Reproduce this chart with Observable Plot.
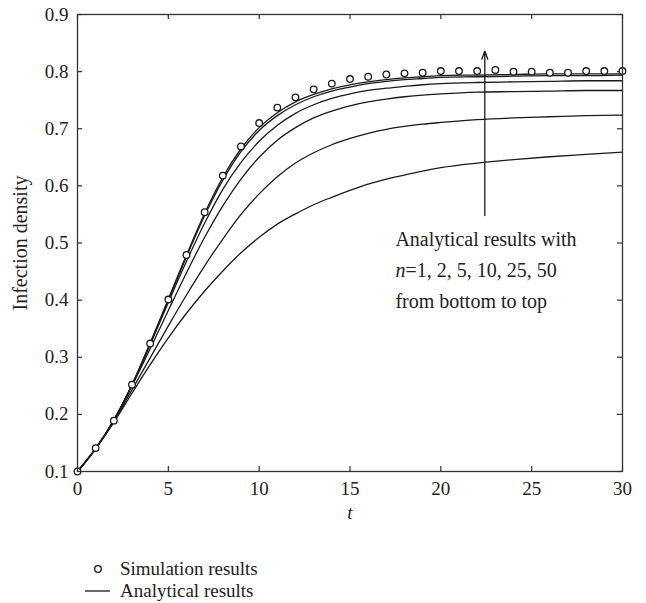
<!DOCTYPE html>
<html><head><meta charset="utf-8">
<script src="https://cdn.jsdelivr.net/npm/d3@7"></script>
<script src="https://cdn.jsdelivr.net/npm/@observablehq/plot@0.6"></script>
<style>
body{margin:0;background:#fff;font-family:"Liberation Serif",serif;color:#222}
svg, svg text{font-family:"Liberation Serif",serif !important}
g[aria-label="x-axis tick label"], g[aria-label="y-axis tick label"]{font-size:19px !important}
#legend{position:relative;height:63px;font-size:19px}
.row{position:absolute;left:85px;height:22px;display:flex;align-items:center}
.row svg{margin-right:10px}
</style></head><body><div id="chart"></div><div id="legend"></div>
<script>
// Simulation results (circles)
const simT = [0,1,2,3,4,5,6,7,8,9,10,11,12,13,14,15,16,17,18,19,20,21,22,23,24,25,26,27,28,29,30];
const simV = [0.100,0.141,0.189,0.252,0.324,0.401,0.479,0.554,0.618,0.669,0.710,0.737,0.755,0.769,0.779,0.787,0.791,0.795,0.797,0.798,0.801,0.801,0.801,0.803,0.800,0.800,0.798,0.798,0.801,0.801,0.801];

// Analytical results (lines), read at these times
const curveT = [0,1,2,3,4,5,6,7,8,9,10,11,12,13,14,15,16,17,18,19,20,22,24,26,28,30];
const n1  = [0.100,0.140,0.186,0.237,0.287,0.334,0.377,0.416,0.451,0.483,0.510,0.533,0.551,0.567,0.580,0.592,0.603,0.612,0.619,0.626,0.632,0.640,0.646,0.651,0.655,0.659];
const n2  = [0.100,0.140,0.188,0.243,0.299,0.355,0.409,0.460,0.507,0.550,0.586,0.616,0.640,0.658,0.672,0.683,0.692,0.699,0.704,0.708,0.711,0.716,0.719,0.721,0.723,0.724];
const n5  = [0.100,0.140,0.190,0.250,0.315,0.382,0.448,0.510,0.565,0.612,0.650,0.680,0.702,0.719,0.731,0.740,0.747,0.752,0.756,0.759,0.761,0.764,0.765,0.766,0.767,0.767];
const n10 = [0.100,0.140,0.190,0.251,0.322,0.396,0.468,0.535,0.594,0.641,0.678,0.706,0.727,0.742,0.753,0.761,0.767,0.771,0.774,0.777,0.779,0.781,0.782,0.783,0.784,0.784];
const n25 = [0.100,0.140,0.190,0.252,0.324,0.400,0.476,0.548,0.610,0.660,0.697,0.723,0.742,0.756,0.766,0.773,0.779,0.783,0.786,0.788,0.790,0.791,0.792,0.793,0.793,0.794];
const n50 = [0.100,0.140,0.190,0.252,0.325,0.402,0.479,0.552,0.615,0.665,0.702,0.728,0.747,0.760,0.770,0.777,0.782,0.786,0.789,0.791,0.793,0.794,0.795,0.796,0.796,0.796];
const seriesN = [1,2,5,10,25,50];
const seriesV = [n1,n2,n5,n10,n25,n50];

const xTicks = [0,5,10,15,20,25,30];
const yTicks = [0.1,0.2,0.3,0.4,0.5,0.6,0.7,0.8,0.9];

// annotation (data units)
const arrowT = [22.42];
const arrowFrom = [0.548];
const arrowTo = [0.836];
const noteT = 17.5;
const noteLines = ["Analytical results with", "=1, 2, 5, 10, 25, 50", "from bottom to top"];
const noteV = [0.506, 0.452, 0.398];

const sim = simT.map((t,i)=>({t, v: simV[i]}));
const lines = seriesN.flatMap((n,k)=>curveT.map((t,i)=>({n, t, v: seriesV[k][i]})));
const arrows = arrowT.map((t,i)=>({t, v1: arrowFrom[i], v2: arrowTo[i]}));
const notes = noteLines.map((s,i)=>({t: noteT, v: noteV[i], s}));

const FS = 19;
const FF = '"Liberation Serif", serif';
const chart = Plot.plot({
  width: 646, height: 540,
  marginLeft: 77, marginRight: 24, marginTop: 14, marginBottom: 69,
  style: {fontFamily: FF, fontSize: FS + "px", color: "#222", background: "#fff"},
  x: {domain: [0,30], ticks: xTicks, tickSize: 0, tickPadding: 10, tickFormat: d=>String(d), label: null},
  y: {domain: [0.1,0.9], ticks: yTicks, tickSize: 0, tickPadding: 9, tickFormat: ".1f", label: null},
  marks: [
    Plot.ruleX(xTicks, {x: d=>d, insetTop: 452, stroke: "#333", strokeWidth: 1.2}),
    Plot.ruleX(xTicks, {x: d=>d, insetBottom: 452, stroke: "#333", strokeWidth: 1.2}),
    Plot.ruleY(yTicks, {y: d=>d, insetRight: 540, stroke: "#333", strokeWidth: 1.2}),
    Plot.ruleY(yTicks, {y: d=>d, insetLeft: 540, stroke: "#333", strokeWidth: 1.2}),
    Plot.line(lines, {x: "t", y: "v", z: "n", curve: "monotone-x", stroke: "#1a1a1a", strokeWidth: 1.3}),
    Plot.dot(sim, {x: "t", y: "v", r: 3.3, stroke: "#1a1a1a", strokeWidth: 1.3, fill: "#fff"}),
    Plot.arrow(arrows, {x1: "t", y1: "v1", x2: "t", y2: "v2", stroke: "#1a1a1a", strokeWidth: 1.3, headLength: 10, headAngle: 40}),
    Plot.text(notes.filter((d,i)=>i!==1), {x: "t", y: "v", text: "s", textAnchor: "start", fontSize: 20, fontFamily: FF, fill: "#222"}),
    Plot.text(notes.filter((d,i)=>i===1), {x: "t", y: "v", text: ()=>"n", textAnchor: "start", fontSize: 20, fontFamily: FF, fontStyle: "italic", fill: "#222"}),
    Plot.text(notes.filter((d,i)=>i===1), {x: "t", y: "v", text: "s", textAnchor: "start", dx: 10, fontSize: 20, fontFamily: FF, fill: "#222"}),
    Plot.text(["Infection density"], {frameAnchor: "left", textAnchor: "middle", dx: -57, rotate: -90, fontSize: 20, fontFamily: FF, fill: "#222"}),
    Plot.text(["t"], {frameAnchor: "bottom", dy: 47, fontSize: FS, fontFamily: FF, fontStyle: "italic", fill: "#222"}),
    Plot.frame({stroke: "#333", strokeWidth: 1.3})
  ]
});
document.getElementById("chart").appendChild(chart);

const legendItems = [
  {label: "Simulation results", kind: "dot"},
  {label: "Analytical results", kind: "line"}
];
const lg = document.getElementById("legend");
legendItems.forEach((it, i) => {
  const row = document.createElement("div");
  row.className = "row";
  row.style.top = (18 + i * 22) + "px";
  const sym = it.kind === "dot"
    ? '<svg width="25" height="22"><circle cx="13" cy="11" r="3.3" fill="#fff" stroke="#1a1a1a" stroke-width="1.3"/></svg>'
    : '<svg width="25" height="22"><line x1="0" x2="25" y1="11" y2="11" stroke="#1a1a1a" stroke-width="1.3"/></svg>';
  row.innerHTML = sym + "<span>" + it.label + "</span>";
  lg.appendChild(row);
});
</script>
</body></html>
